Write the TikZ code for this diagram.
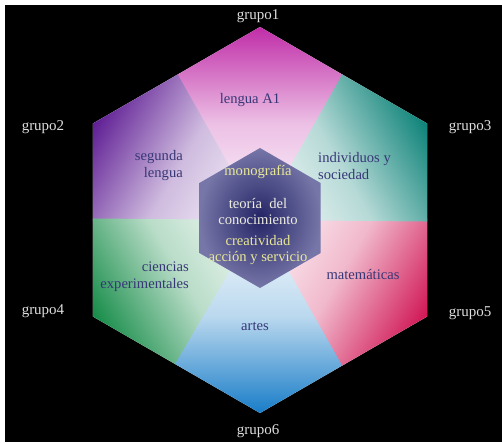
\documentclass[tikz,border=0pt]{standalone}
\usepackage{fontspec}
\setmainfont{Liberation Serif}
\definecolor{cMag}{RGB}{192,45,168}
\definecolor{cPur}{RGB}{95,30,148}
\definecolor{cGrn}{RGB}{22,140,72}
\definecolor{cBlu}{RGB}{25,125,200}
\definecolor{cRed}{RGB}{208,22,85}
\definecolor{cTea}{RGB}{12,130,120}
\definecolor{grupotext}{RGB}{222,222,222}
\definecolor{subjtext}{RGB}{55,55,118}
\definecolor{innerdark}{RGB}{36,36,102}
\definecolor{innerlight}{RGB}{118,118,168}
\definecolor{coreyellow}{RGB}{232,232,150}
\definecolor{corewhite}{RGB}{238,238,225}
\tikzset{
  grp/.style={text=grupotext, font=\fontsize{15}{17}\selectfont, inner sep=0pt},
  subj/.style={text=subjtext, font=\fontsize{14.6}{17}\selectfont, inner sep=0pt},
  core/.style={font=\fontsize{14.6}{16}\selectfont, align=center, inner sep=0pt},
  kitefill/.style={top color=#1, bottom color=#1!2!white, middle color=#1!30!white}
}
\newcommand\hexkite[2]{%
  \begin{scope}[transform canvas={rotate around={#1:(260,220)}}]
    \path[kitefill=#2] (260,220) -- (175.1,76.0) -- (260,27) -- (344.9,76.0) -- cycle;
  \end{scope}}
\begin{document}
\begin{tikzpicture}[x=1pt,y=-1pt]
\useasboundingbox (0,0) rectangle (502,442);
\fill[white] (0,0) rectangle (502,442);
\fill[black] (5,5) rectangle (502,442);
% outer hexagon sectors
\begin{scope}
  \clip (260,27) -- (427.1,123.5) -- (427.1,316.5) -- (260,413) -- (92.9,316.5) -- (92.9,123.5) -- cycle;
  \fill[white] (80,20) rectangle (440,420);
  \hexkite{0}{cMag}
  \hexkite{60}{cPur}
  \hexkite{120}{cGrn}
  \hexkite{180}{cBlu}
  \hexkite{240}{cRed}
  \hexkite{300}{cTea}
\end{scope}
% inner hexagon
\path[inner color=innerdark, outer color=innerlight]
  (260,148) -- (320.6,183) -- (320.6,253) -- (260,288) -- (199.4,253) -- (199.4,183) -- cycle;
% group labels
\node[grp] (g1) at (258,16) {grupo1};
\node[grp] (g2) at (43,127) {grupo2};
\node[grp] (g3) at (470,127) {grupo3};
\node[grp] (g4) at (43,311) {grupo4};
\node[grp] (g5) at (470,313) {grupo5};
\node[grp] (g6) at (258,431) {grupo6};
% subject labels
\node[subj] (s1) at (250,100) {lengua A1};
\node[subj, align=right, anchor=east] (s2) at (183,166) {segunda\\lengua};
\node[subj, align=left, anchor=west] (s3) at (318,166) {individuos y\\sociedad};
\node[subj, align=right, anchor=east] (s4) at (189,277) {ciencias\\experimentales};
\node[subj] (s5) at (363,274) {matemáticas};
\node[subj] (s6) at (255,326) {artes};
% core labels
\node[core, text=coreyellow] (c1) at (258,172) {monografía};
\node[core, text=corewhite] (c2) at (258,211) {teoría\ \ del\\conocimiento};
\node[core, text=coreyellow] (c3) at (258,250) {creatividad\\acción y servicio};
\end{tikzpicture}
\end{document}
